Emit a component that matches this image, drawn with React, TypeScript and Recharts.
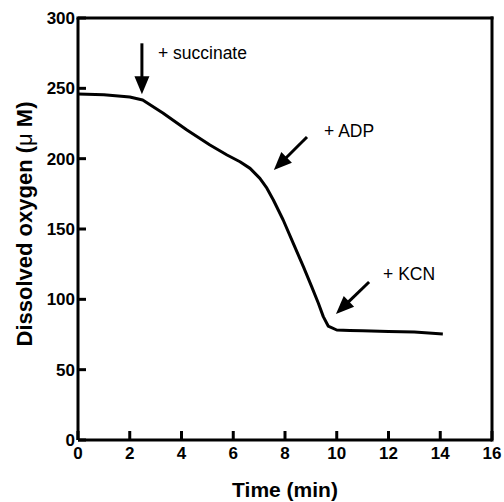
import React from "react";
import {
  LineChart, Line, XAxis, YAxis, ReferenceLine, ReferenceDot,
} from "recharts";

// oxygen trace
const times = [0, 1, 2, 2.5, 3.28, 4.21, 5.1, 5.76, 6.26, 6.65, 7.03, 7.3, 7.55, 7.93, 8.32, 8.71, 9.03, 9.29, 9.48, 9.67, 10.0, 10.5, 11, 12, 13, 14.1];
const oxygen = [246, 245.5, 243.8, 241.7, 232.5, 220.4, 209.7, 202.6, 197.8, 193.1, 186, 179, 170.6, 156.4, 139.8, 123.2, 109, 97.2, 87.7, 81, 78.2, 77.9, 77.6, 77.2, 76.7, 75.4];

const xTicks = [0, 2, 4, 6, 8, 10, 12, 14, 16];
const yTicks = [0, 50, 100, 150, 200, 250, 300];

// additions: arrow start -> tip, and label anchor (left edge, middle)
const labels = ["+ succinate", "+ ADP", "+ KCN"];
const arrowFrom = [[2.47, 282], [8.85, 215.4], [11.25, 112.3]];
const arrowTo = [[2.47, 245.8], [7.57, 191.9], [9.97, 89.6]];
const labelAt = [[3.09, 275], [9.51, 219.7], [11.79, 118.4]];

const data = times.map((t, i) => ({ t, o2: oxygen[i] }));

const font = "Arial, 'Liberation Sans', sans-serif";

const YTick = (props: any) => {
  const { x, y, payload } = props;
  return (
    <g>
      <line x1={x + 3} x2={x + 11} y1={y} y2={y} stroke="#000" strokeWidth={3} />
      <text x={x} y={y} dy="0.355em" textAnchor="end" fontFamily={font} fontWeight="bold" fontSize={17} fill="#000">
        {payload.value}
      </text>
    </g>
  );
};

const XTick = (props: any) => {
  const { x, y, payload } = props;
  return (
    <g>
      <line x1={x} x2={x} y1={y - 7} y2={y - 16} stroke="#000" strokeWidth={3} />
      <text x={x} y={y} dy="0.71em" textAnchor="middle" fontFamily={font} fontWeight="bold" fontSize={17} fill="#000">
        {payload.value}
      </text>
    </g>
  );
};

const Arrow = (props: any) => {
  const { x1, y1, x2, y2 } = props;
  const dx = x2 - x1;
  const dy = y2 - y1;
  const len = Math.sqrt(dx * dx + dy * dy) || 1;
  const ux = dx / len;
  const uy = dy / len;
  const head = 18;
  const half = 7.5;
  const bx = x2 - ux * head;
  const by = y2 - uy * head;
  const pts = `${x2},${y2} ${bx - uy * half},${by + ux * half} ${bx + uy * half},${by - ux * half}`;
  return (
    <g>
      <line x1={x1} y1={y1} x2={bx + ux} y2={by + uy} stroke="#000" strokeWidth={3} />
      <polygon points={pts} fill="#000" />
    </g>
  );
};

const YTitle = (props: any) => {
  const { viewBox } = props;
  const cx = viewBox.x + 31.5;
  const cy = viewBox.y + viewBox.height / 2 - 5;
  return (
    <text x={cx} y={cy} textAnchor="middle" transform={`rotate(-90, ${cx}, ${cy})`}
      fontFamily={font} fontWeight="bold" fontSize={22} fill="#000">
      Dissolved oxygen (<tspan fontWeight="normal">μ</tspan> M)
    </text>
  );
};

export default function App() {
  return (
    <div style={{ position: "absolute", left: 0, top: 0, background: "#fff" }}>
      <LineChart width={504} height={502} data={data} margin={{ top: 18, right: 12, left: 0, bottom: 0 }}>
        <XAxis
          dataKey="t" type="number" domain={[0, 16]} ticks={xTicks} interval={0}
          height={62} tickSize={0} tickMargin={7} tickLine={false} tick={XTick}
          axisLine={{ stroke: "#000", strokeWidth: 3 }}
          label={{ value: "Time (min)", position: "insideBottom", offset: 5, fontFamily: font, fontWeight: "bold", fontSize: 21, fill: "#000" }}
        />
        <YAxis
          type="number" domain={[0, 300]} ticks={yTicks} interval={0}
          width={78} tickSize={0} tickMargin={3} tickLine={false} tick={YTick}
          axisLine={{ stroke: "#000", strokeWidth: 3 }}
          label={<YTitle />}
        />
        <ReferenceLine y={300} stroke="#000" strokeWidth={3} strokeLinecap="square" />
        <ReferenceLine x={16} stroke="#000" strokeWidth={3} strokeLinecap="square" />
        <Line type="linear" dataKey="o2" stroke="#000" strokeWidth={3} strokeLinejoin="round" dot={false} activeDot={false} isAnimationActive={false} />
        {labels.map((lab, i) => (
          <ReferenceLine
            key={"a" + i}
            segment={[{ x: arrowFrom[i][0], y: arrowFrom[i][1] }, { x: arrowTo[i][0], y: arrowTo[i][1] }]}
            shape={Arrow}
          />
        ))}
        {labels.map((lab, i) => (
          <ReferenceDot
            key={"l" + i}
            x={labelAt[i][0]} y={labelAt[i][1]} r={0}
            shape={(p: any) => (
              <text x={p.cx} y={p.cy} dy="0.355em" fontFamily={font} fontSize={17.5} fill="#000">{lab}</text>
            )}
          />
        ))}
      </LineChart>
    </div>
  );
}
